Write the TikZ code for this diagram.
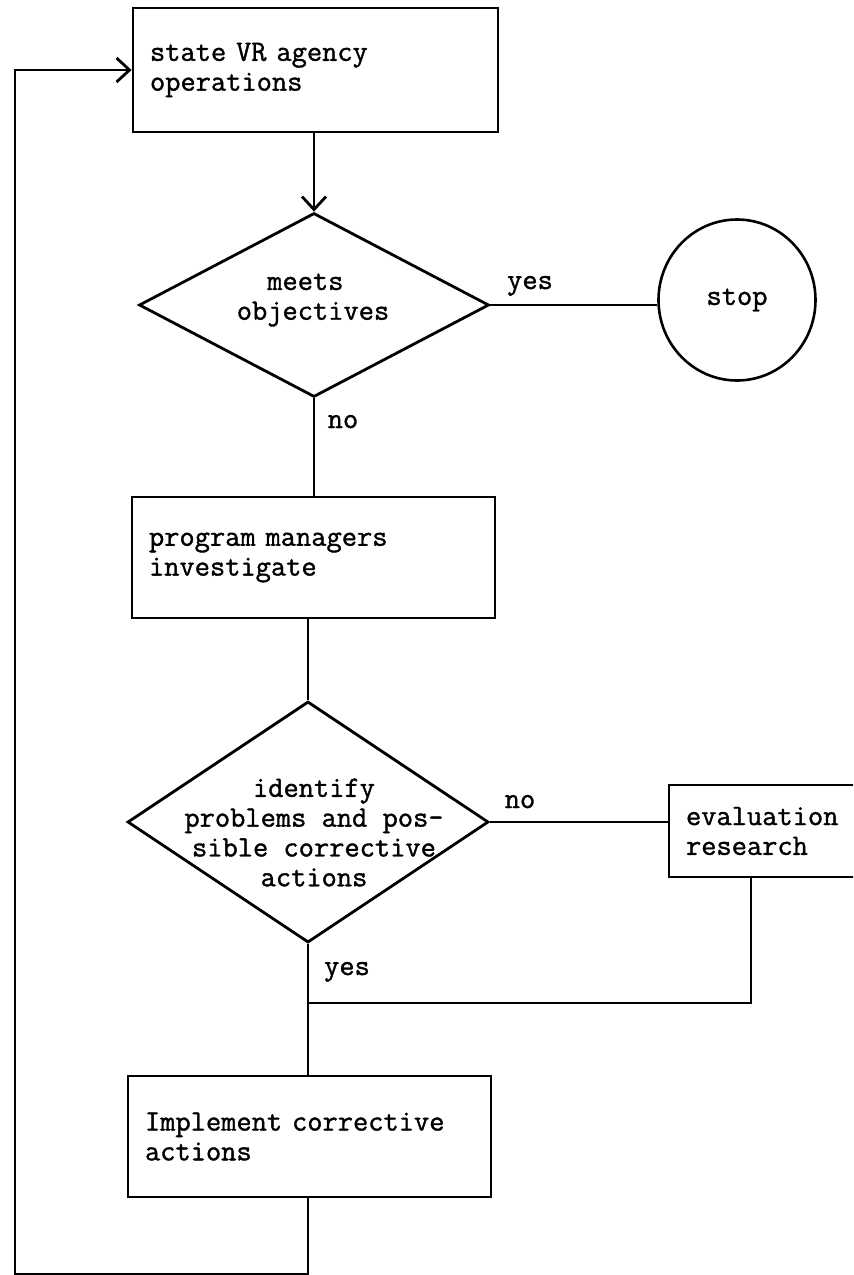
\documentclass[tikz,border=0pt]{standalone}
\usepackage{fontspec}
\newfontfamily\twfont{Latin Modern Mono}[FakeBold=1.2]
\usetikzlibrary{shapes.geometric,arrows.meta}
\begin{document}
\begin{tikzpicture}[x=0.5pt,y=-0.5pt,
  every node/.style={font=\twfont\fontsize{14.8pt}{14.9pt}\selectfont},
  procbox/.style={draw, rectangle, line width=1.4pt, inner xsep=8.5pt, inner ysep=0pt, align=left, text width=#1},
  decision/.style={draw, diamond, line width=1.4pt, inner sep=0pt},
  terminal/.style={draw, ellipse, line width=1.3pt, inner sep=0pt},
  lbl/.style={inner sep=0pt, anchor=base},
  flow/.style={line width=1.4pt},
  arr/.style={flow, -{Straight Barb[length=6.5pt,width=12pt]}}
]
\useasboundingbox (0,0) rectangle (853,1275);
\clip (0,0) rectangle (853,1275);

% process boxes, decisions and the terminal
\node[procbox=165.5pt, minimum height=62pt] (b1) at (315.5,70) {state VR agency\\operations};
\node[decision, minimum width=175pt, minimum height=92pt] (d1) at (314,305) {};
\node[align=center, inner sep=0pt] (d1t) at (313,300) {meets\hphantom{m}\\objectives};
\node[terminal, minimum width=78.5pt, minimum height=80.5pt] (stop) at (737,300) {stop};
\node[procbox=164.5pt, minimum height=60.5pt] (b2) at (313.5,557.5) {program managers\\investigate};
\node[decision, minimum width=180.5pt, minimum height=120.5pt] (d2) at (308,822) {};
\node[align=center, inner sep=0pt] (d2t) at (314,832.5) {identify\\problems and pos-\\sible corrective\\actions};
\node[procbox=98.5pt, minimum height=46pt] (b3) at (784.5,831) {evaluation\\research};
\node[procbox=164.5pt, minimum height=60.5pt] (b4) at (309.5,1136.5) {Implement corrective\\actions};

% connectors
\draw[arr] (b1.south -| d1.north) -- (d1.north);
\draw[flow] (d1.east) -- (d1.east -| stop.west);
\draw[flow] (d1.south) -- (d1.south |- b2.north);
\draw[flow] (b2.south -| d2.north) -- (d2.north);
\draw[flow] (d2.east) -- (d2.east -| b3.west);
\coordinate (evx) at (751,877);
\coordinate (j) at (308,1003);
\draw[flow] (b3.south -| evx) |- (j);
\draw[flow] (d2.south) -- (d2.south |- b4.north);
\coordinate (lb) at (15,1274);
\draw[arr] (b4.south -| d2.south) |- (lb) |- (b1.west);

% branch labels
\node[lbl] (yes1) at (530,289) {yes};
\node[lbl] (no1) at (343,428) {no};
\node[lbl] (no2) at (520,808) {no};
\node[lbl] (yes2) at (347,975) {yes};
\end{tikzpicture}
\end{document}
